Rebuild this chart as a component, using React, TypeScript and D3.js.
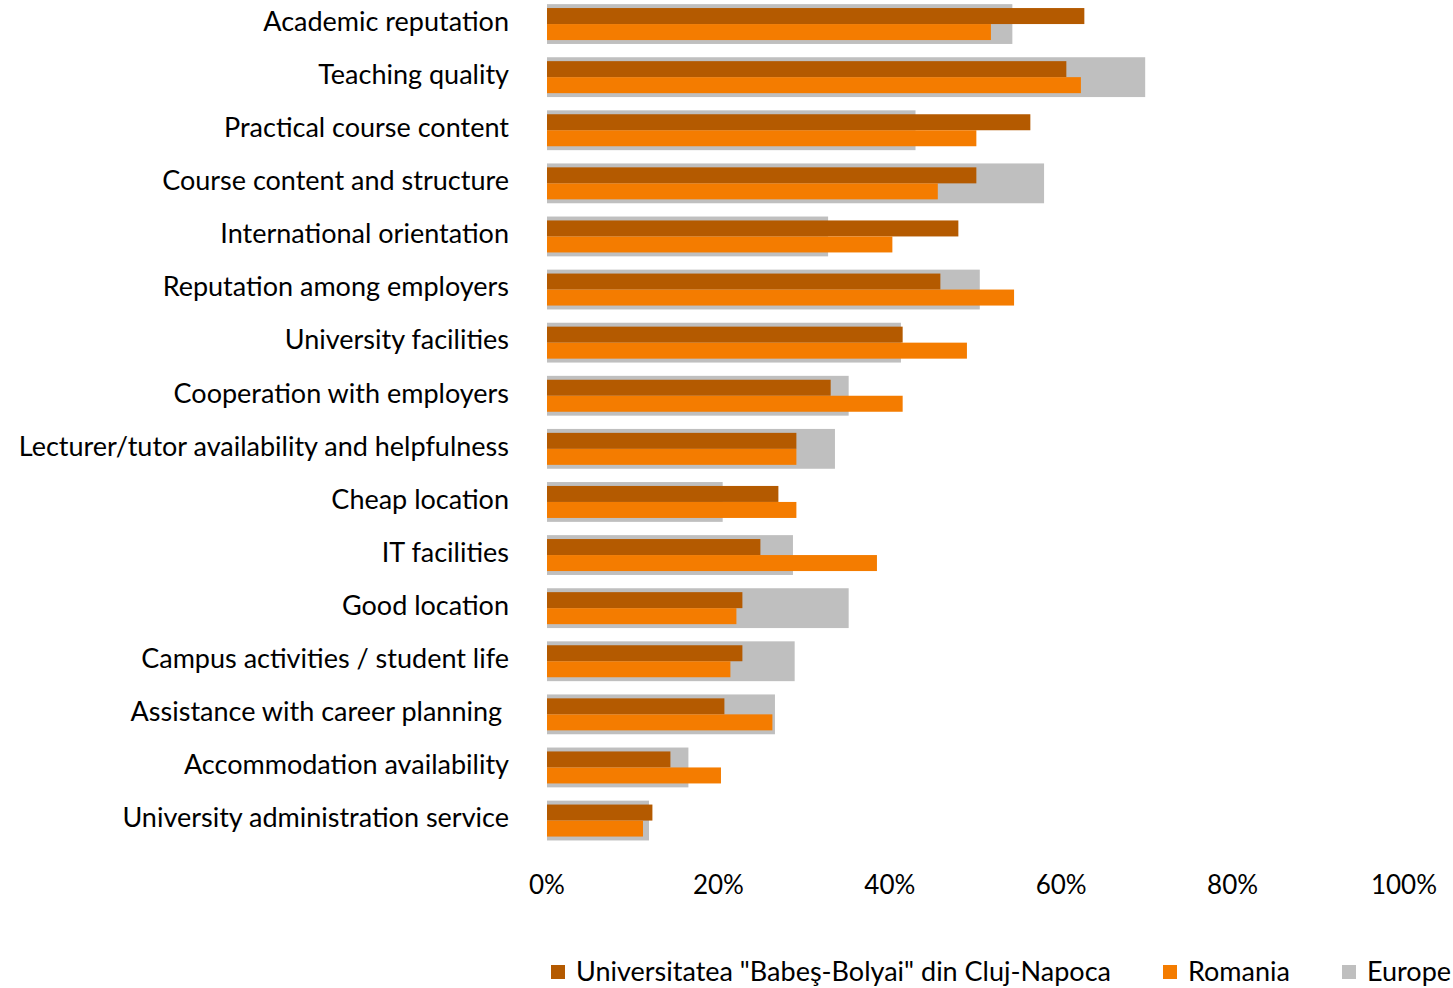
import React from "react";
import * as d3 from "d3";

const categories = [
  "Academic reputation",
  "Teaching quality",
  "Practical course content",
  "Course content and structure",
  "International orientation",
  "Reputation among employers",
  "University facilities",
  "Cooperation with employers",
  "Lecturer/tutor availability and helpfulness",
  "Cheap location",
  "IT facilities",
  "Good location",
  "Campus activities / student life",
  "Assistance with career planning ",
  "Accommodation availability",
  "University administration service",
];

const ubb = [62.7, 60.6, 56.4, 50.1, 48.0, 45.9, 41.5, 33.1, 29.1, 27.0, 24.9, 22.8, 22.8, 20.7, 14.4, 12.3];
const romania = [51.8, 62.3, 50.1, 45.6, 40.3, 54.5, 49.0, 41.5, 29.1, 29.1, 38.5, 22.1, 21.4, 26.3, 20.3, 11.2];
const europe = [54.3, 69.8, 43.0, 58.0, 32.8, 50.5, 41.3, 35.2, 33.6, 20.5, 28.7, 35.2, 28.9, 26.6, 16.5, 11.9];

const xTicks = [0, 20, 40, 60, 80, 100];
const seriesNames = ['Universitatea "Babeş-Bolyai" din Cluj-Napoca', "Romania", "Europe"];

const COLORS = { ubb: "#B45A00", romania: "#F47C00", europe: "#BFBFBF" };
const FONT = "Lato, 'Open Sans', sans-serif";

export default function App() {
  const W = 1453;
  const H = 988;
  const x = d3.scaleLinear().domain([0, 100]).range([547, 1404]);
  const y = d3.scaleBand().domain(categories).range([-2.5, 847.1]).paddingInner(0.25).paddingOuter(0.125);
  const inner = d3.scaleBand().domain(["ubb", "romania"]).range([0, 32]);

  const legendItems = [
    { name: seriesNames[0], color: COLORS.ubb, x: 551 },
    { name: seriesNames[1], color: COLORS.romania, x: 1163 },
    { name: seriesNames[2], color: COLORS.europe, x: 1342 },
  ];

  return (
    <svg
      width={W}
      height={H}
      style={{ position: "absolute", left: 0, top: 0, display: "block", background: "#fff" }}
      fontFamily={FONT}
    >
      {categories.map((c, i) => {
        const y0 = y(c)!;
        const bh = y.bandwidth();
        const cy = y0 + bh / 2;
        return (
          <g key={c}>
            <rect x={x(0)} y={y0} width={x(europe[i]) - x(0)} height={bh} fill={COLORS.europe} />
            <rect
              x={x(0)}
              y={cy - 16 + inner("ubb")!}
              width={x(ubb[i]) - x(0)}
              height={inner.bandwidth()}
              fill={COLORS.ubb}
            />
            <rect
              x={x(0)}
              y={cy - 16 + inner("romania")!}
              width={x(romania[i]) - x(0)}
              height={inner.bandwidth()}
              fill={COLORS.romania}
            />
            <text
              x={509}
              y={cy}
              textAnchor="end"
              dominantBaseline="middle"
              fontSize={27}
              fill="#000"
              style={{ whiteSpace: "pre" }}
            >
              {c}
            </text>
          </g>
        );
      })}
      {xTicks.map((t) => (
        <text key={t} x={x(t)} y={887} textAnchor="middle" dominantBaseline="middle" fontSize={26} fill="#000">
          {d3.format(".0%")(t / 100)}
        </text>
      ))}
      {legendItems.map((l) => (
        <g key={l.name}>
          <rect x={l.x} y={965} width={14} height={14} fill={l.color} />
          <text x={l.x + 25} y={974} dominantBaseline="middle" fontSize={27} fill="#000">
            {l.name}
          </text>
        </g>
      ))}
    </svg>
  );
}
